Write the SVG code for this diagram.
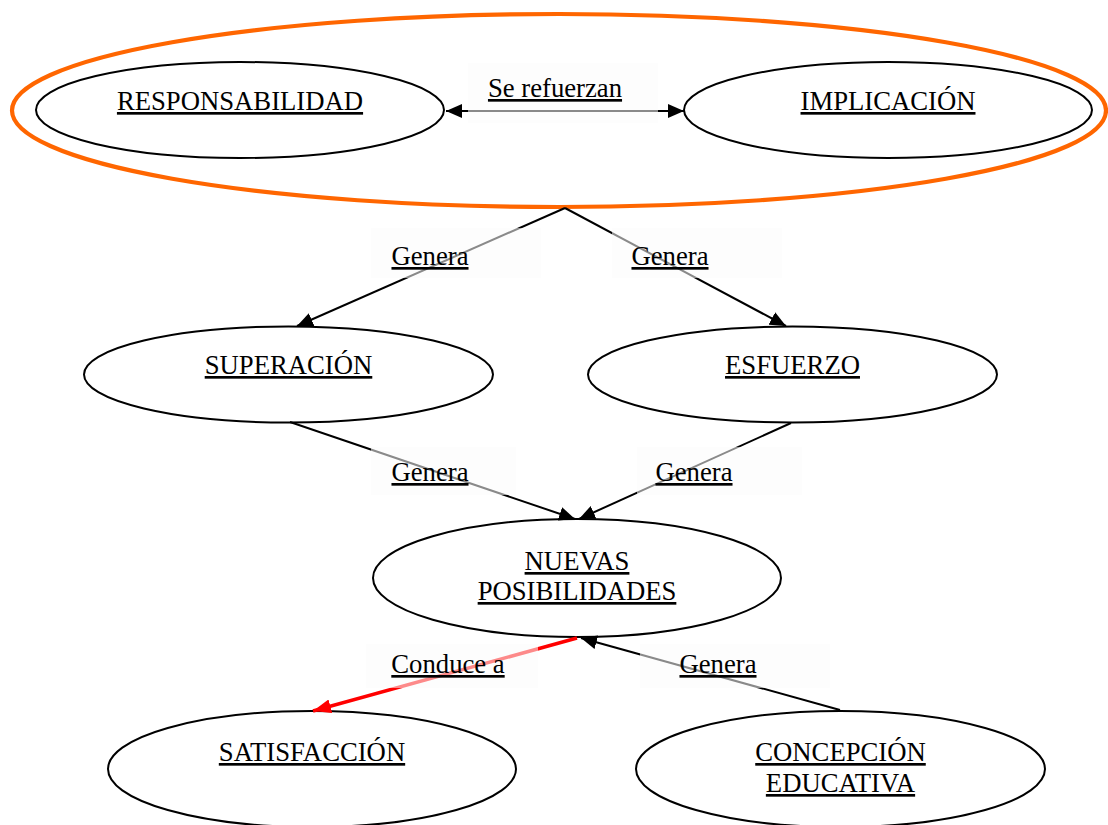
<svg xmlns="http://www.w3.org/2000/svg" width="1108" height="825" viewBox="0 0 1108 825">
<style>
.node{fill:#fff;stroke:#000;stroke-width:2}
.t{font-family:"Liberation Serif","Times New Roman",serif;font-size:26.7px;fill:#000;text-anchor:middle;text-decoration:underline}
.c{stroke:#000;stroke-width:2;fill:none}
.box{fill:#fbfbfb;fill-opacity:0.55}
</style>
<defs>
<marker id="ah" markerUnits="userSpaceOnUse" markerWidth="18" markerHeight="14" refX="16" refY="7" orient="auto-start-reverse">
<path d="M0,0 L16,7 L0,14 Z" fill="#000"/>
</marker>
<marker id="ahr" markerUnits="userSpaceOnUse" markerWidth="20" markerHeight="14" refX="18" refY="7" orient="auto">
<path d="M0,0 L18,7 L0,14 Z" fill="#ff0000"/>
</marker>
</defs>

<g id="group-outline">
<ellipse cx="559" cy="110.5" rx="547" ry="96.5" fill="none" stroke="#ff6600" stroke-width="4.2"/>
</g>

<g id="n-responsabilidad">
<ellipse class="node" cx="240" cy="110" rx="204" ry="48"/>
<text class="t" x="240" y="110">RESPONSABILIDAD</text>
</g>
<g id="n-implicacion">
<ellipse class="node" cx="888" cy="110" rx="204" ry="48"/>
<text class="t" x="888" y="110">IMPLICACIÓN</text>
</g>
<g id="n-superacion">
<ellipse class="node" cx="288.5" cy="374.5" rx="204.5" ry="48"/>
<text class="t" x="288.5" y="374">SUPERACIÓN</text>
</g>
<g id="n-esfuerzo">
<ellipse class="node" cx="792.5" cy="374.5" rx="204.5" ry="48"/>
<text class="t" x="792.5" y="374">ESFUERZO</text>
</g>
<g id="n-nuevas">
<ellipse class="node" cx="577" cy="578" rx="204" ry="59"/>
<text class="t" x="577" y="570">NUEVAS</text>
<text class="t" x="577" y="600">POSIBILIDADES</text>
</g>
<g id="n-satisfaccion">
<ellipse class="node" cx="312" cy="769" rx="204" ry="58"/>
<text class="t" x="312" y="761">SATISFACCIÓN</text>
</g>
<g id="n-concepcion">
<ellipse class="node" cx="840.5" cy="769" rx="204.5" ry="58"/>
<text class="t" x="840.5" y="761">CONCEPCIÓN</text>
<text class="t" x="840.5" y="792">EDUCATIVA</text>
</g>

<g id="connectors">
<line class="c" x1="446" y1="111" x2="684" y2="111" marker-start="url(#ah)" marker-end="url(#ah)"/>
<line class="c" x1="565" y1="208" x2="297" y2="326" marker-end="url(#ah)"/>
<line class="c" x1="565" y1="208" x2="786" y2="326" marker-end="url(#ah)"/>
<line class="c" x1="290" y1="422" x2="575" y2="519" marker-end="url(#ah)"/>
<line class="c" x1="791" y1="423" x2="579" y2="519" marker-end="url(#ah)"/>
<line x1="577" y1="638" x2="313" y2="711" stroke="#ff0000" stroke-width="3.5" marker-end="url(#ahr)"/>
<line class="c" x1="840" y1="710" x2="581" y2="638" marker-end="url(#ah)"/>
</g>

<g id="labels">
<rect class="box" x="468" y="63" width="190" height="60"/>
<text class="t" x="555" y="97">Se refuerzan</text>
<rect class="box" x="371" y="228" width="170" height="50"/>
<text class="t" x="430" y="265">Genera</text>
<rect class="box" x="612" y="228" width="170" height="50"/>
<text class="t" x="670" y="265">Genera</text>
<rect class="box" x="371" y="447" width="145" height="48"/>
<text class="t" x="430" y="481">Genera</text>
<rect class="box" x="637" y="447" width="165" height="48"/>
<text class="t" x="694" y="481">Genera</text>
<rect class="box" x="366" y="644" width="172" height="44"/>
<text class="t" x="448" y="673">Conduce a</text>
<rect class="box" x="640" y="644" width="190" height="44"/>
<text class="t" x="718" y="673">Genera</text>
</g>
</svg>
